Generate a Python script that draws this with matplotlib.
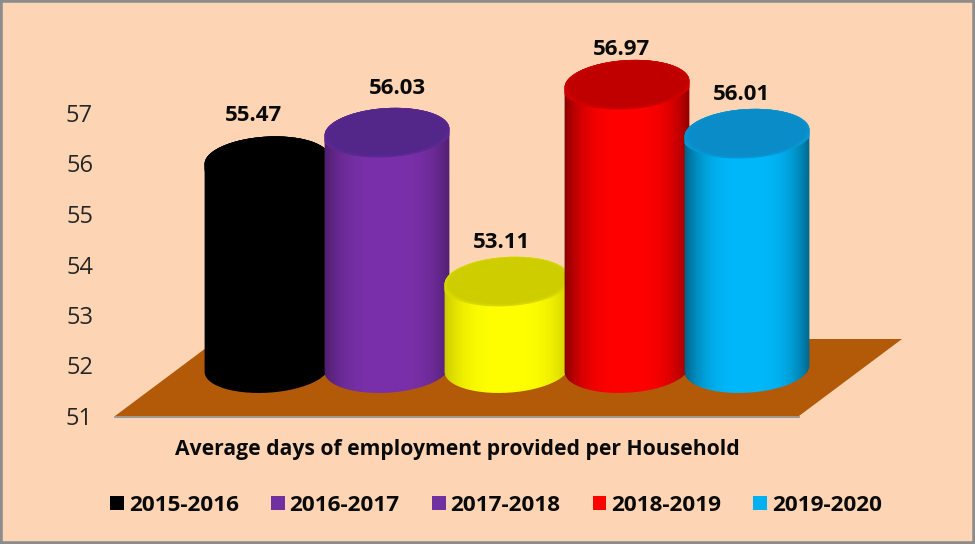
import numpy as np
import matplotlib
matplotlib.use("Agg")
import matplotlib.pyplot as plt
from matplotlib.patches import PathPatch, Polygon, Rectangle
from matplotlib.path import Path
from matplotlib.colors import to_rgb

years = ["2015-2016", "2016-2017", "2017-2018", "2018-2019", "2019-2020"]
values = [55.47, 56.03, 53.11, 56.97, 56.01]
body_colors = ["#000000", "#7A30AA", "#FFFF00", "#FF0000", "#00B8FA"]
top_colors = ["#000000", "#53268A", "#CDCD00", "#C00000", "#0A8CC8"]
legend_colors = ["#000000", "#7030A0", "#7030A0", "#FF0000", "#00B0F0"]
edge_depth = [0.0, 0.38, 0.22, 0.5, 0.5]
ticks = [51, 52, 53, 54, 55, 56, 57]
title = "Average days of employment provided per Household"

W, H = 975, 544
FONT = "Open Sans"
BG = "#FDD5B5"
TXT = "#0A0A0A"
fig = plt.figure(figsize=(W / 100, H / 100), dpi=100, facecolor=BG)


def fx(p):
    return p / W


def fy(p):
    return 1 - p / H


# floor and frame
floor_px = [(115, 416), (799, 416), (902, 339), (218, 339)]
fig.add_artist(Polygon([(fx(a), fy(b)) for a, b in floor_px], closed=True, zorder=-2,
                       transform=fig.transFigure, facecolor="#B25A08", edgecolor="none"))
fig.add_artist(plt.Line2D([fx(115), fx(799)], [fy(417), fy(417)], color="#8C8C8C", lw=1.2, zorder=-1))
fig.add_artist(Rectangle((0, 0), 1, 1, transform=fig.transFigure, fill=False,
                         edgecolor="#8C8C8C", linewidth=4, zorder=30))

# main axes spanning the figure: category index / value
ax = fig.add_axes([0, 0, 1, 1], facecolor="none")
px_per_cat = 120.0
px_per_val = 51.0
x0_px = 267.0
v51_px = 388.6
xlim = (-x0_px / px_per_cat, (W - x0_px) / px_per_cat)
ylim = (51 - (H - v51_px) / px_per_val, 51 + v51_px / px_per_val)
ax.axis("off")

A, B = 62.5, 24.0
TILT = np.deg2rad(3.5)
base = 51.39
label_dx = [-14, 10, -6, -5, -6]
label_dy = [45, 44, 38, 35, 39]


def ellipse_pts(xc, yc, th, a=A, b=B):
    px = a * np.cos(th) * np.cos(TILT) - b * np.sin(th) * np.sin(TILT)
    py = a * np.cos(th) * np.sin(TILT) + b * np.sin(th) * np.cos(TILT)
    return np.c_[xc + px / px_per_cat, yc + py / px_per_val]


t = np.linspace(-1, 1, 260)
for i, (v, bc, tc, dep) in enumerate(zip(values, body_colors, top_colors, edge_depth)):
    rgb = np.array(to_rgb(bc))
    trgb = np.array(to_rgb(tc))
    shade = 1 - dep * np.abs(t) ** 3.2
    img = shade[None, :, None] * rgb[None, None, :]
    ta = np.arctan2(-B * np.sin(TILT), A * np.cos(TILT))  # param of rightmost point
    th_low = np.linspace(ta - np.pi, ta, 90)
    th_up = np.linspace(ta, ta + np.pi, 90)
    verts = np.vstack([ellipse_pts(i, base, th_low), ellipse_pts(i, v, th_up)])
    verts = np.vstack([verts, verts[:1]])
    clip = PathPatch(Path(verts), transform=ax.transData, facecolor="none", edgecolor="none")
    ax.add_patch(clip)
    dx = (A + 2) / px_per_cat
    dy = 40 / px_per_val
    im = ax.imshow(img, extent=[i - dx, i + dx, base - dy, v + dy], aspect="auto",
                   zorder=2 + i, interpolation="bilinear")
    im.set_clip_path(clip)
    # top face with soft front edge
    th = np.linspace(0, 2 * np.pi, 160)
    steps = 6
    for k in range(steps):
        f = k / (steps - 1)
        scale = 1.05 - 0.11 * f
        col = tuple(((1 - f) * (0.3 * rgb + 0.7 * trgb) + f * trgb))
        face = Polygon(ellipse_pts(i, v, th, A * scale, B * scale), closed=True, facecolor=col,
                       edgecolor="none", zorder=2 + i + 0.1 + 0.05 * k)
        ax.add_patch(face)
        face.set_clip_path(clip)
    ax.annotate(f"{v:.2f}", (i, v), xytext=(label_dx[i] * 0.72, label_dy[i] * 0.72),
                textcoords="offset points", ha="center", va="center", fontsize=16,
                fontweight="bold", family=FONT, color=TXT, zorder=20)
ax.set_xlim(*xlim)
ax.set_ylim(*ylim)

# value axis labels
axt = fig.add_axes([fx(100), fy(416), 0.01, (416 - 113) / H], facecolor="none")
axt.set_ylim(ticks[0], ticks[-1])
axt.set_yticks(ticks)
axt.set_yticklabels([str(k) for k in ticks], fontsize=17, family=FONT, color="#262626")
axt.tick_params(axis="y", length=0, pad=5)
axt.set_xticks([])
for s in axt.spines.values():
    s.set_visible(False)

fig.text(fx(457.5), fy(449.5), title, ha="center", va="center", fontsize=15.2,
         fontweight="bold", family=FONT, color=TXT)

handles = [Rectangle((0, 0), 1, 1, facecolor=c, edgecolor="none") for c in legend_colors]
fig.legend(handles, years, loc="center", bbox_to_anchor=(fx(496), fy(505.5)), ncol=5, frameon=False,
           handlelength=0.62, handleheight=0.62, handletextpad=0.22, columnspacing=1.42,
           prop={"family": FONT, "weight": "bold", "size": 16.2}, labelcolor=TXT)

fig.savefig("out.png", dpi=100, facecolor=BG)
